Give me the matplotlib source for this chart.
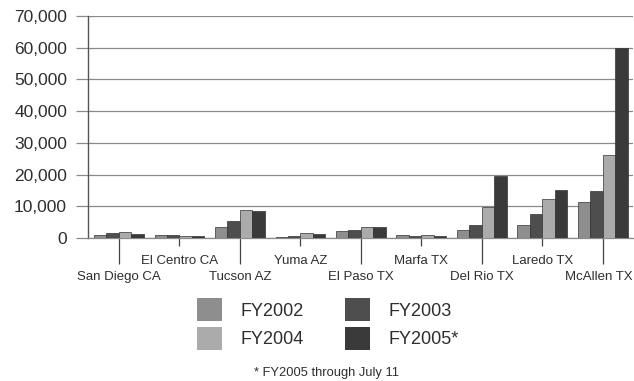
import numpy as np
import matplotlib
matplotlib.use("Agg")
import matplotlib.pyplot as plt
from matplotlib.ticker import FuncFormatter
from matplotlib.patches import Patch
from matplotlib.transforms import ScaledTranslation

sectors = ["San Diego CA", "El Centro CA", "Tucson AZ", "Yuma AZ", "El Paso TX",
           "Marfa TX", "Del Rio TX", "Laredo TX", "McAllen TX"]
fy2002 = [900, 800, 3600, 300, 2200, 900, 2600, 4100, 11300]
fy2003 = [1600, 900, 5300, 500, 2500, 700, 4100, 7600, 14900]
fy2004 = [2000, 500, 8800, 1500, 3600, 800, 9900, 12300, 26300]
fy2005 = [1300, 500, 8500, 1200, 3500, 500, 19700, 15200, 60000]
series = ["FY2002", "FY2003", "FY2004", "FY2005*"]
colors = ["#8e8e8e", "#4e4e4e", "#ababab", "#3a3a3a"]
footnote = "* FY2005 through July 11"

plt.rcParams['font.family'] = ['Liberation Sans', 'DejaVu Sans']
txt = "#2e2e2e"

fig = plt.figure(figsize=(6.34, 3.81), dpi=100)
ax = fig.add_axes([88/634., 143/381., 545/634., 222/381.])

x = np.arange(len(sectors))
w = 0.205
handles = []
for i, (vals, col) in enumerate(zip([fy2002, fy2003, fy2004, fy2005], colors)):
	b = ax.bar(x + (i - 1.5) * w, vals, w, color=col, edgecolor="#333333", linewidth=0.5, zorder=3)
	handles.append(Patch(facecolor=col, edgecolor="none", label=series[i]))

ax.set_xlim(-0.51, 8.5)
ax.set_ylim(0, 70000)
ax.set_yticks(np.arange(0, 70001, 10000))
ax.yaxis.set_major_formatter(FuncFormatter(lambda v, p: "{:,}".format(int(v))))
ax.grid(axis="y", color="#8a8a8a", linewidth=0.9, zorder=0)
ax.tick_params(axis="y", length=8.6, width=0.9, color="#8a8a8a", pad=6.5, labelsize=12.5, labelcolor=txt)

# staggered category labels: long ticks for lower row, short for upper row
ax.set_xticks(x[::2])
ax.set_xticklabels(sectors[::2])
ax.set_xticks(x[1::2], minor=True)
ax.set_xticklabels(sectors[1::2], minor=True)
ax.tick_params(axis="x", which="major", length=19, width=0.9, color="#444444", pad=5, labelsize=9.5, labelcolor=txt)
ax.tick_params(axis="x", which="minor", length=5.5, width=0.9, color="#444444", pad=7, labelsize=9.5, labelcolor=txt)

# last label sits right at the edge, pull it in a few px
lab = ax.get_xticklabels()[-1]
lab.set_transform(lab.get_transform() + ScaledTranslation(-4/100., 0, fig.dpi_scale_trans))

for s in ["top", "right"]:
	ax.spines[s].set_visible(False)
ax.spines["left"].set_color("#555555")
ax.spines["left"].set_linewidth(1.0)
ax.spines["bottom"].set_color("#8a8a8a")
ax.spines["bottom"].set_linewidth(0.9)

order = [0, 2, 1, 3]
fig.legend([handles[k] for k in order], [series[k] for k in order], ncol=2, frameon=False,
	loc="upper left", bbox_to_anchor=(197/634., 1 - 298/381.), fontsize=13,
	handlelength=1.4, handleheight=1.6, handletextpad=1.0, columnspacing=2.3,
	labelspacing=0.3, borderpad=0, borderaxespad=0, labelcolor=txt)

fig.text(326/634., 1 - 373/381., footnote, ha="center", va="center", fontsize=9.3, color=txt)

fig.savefig("out.png", dpi=100)
